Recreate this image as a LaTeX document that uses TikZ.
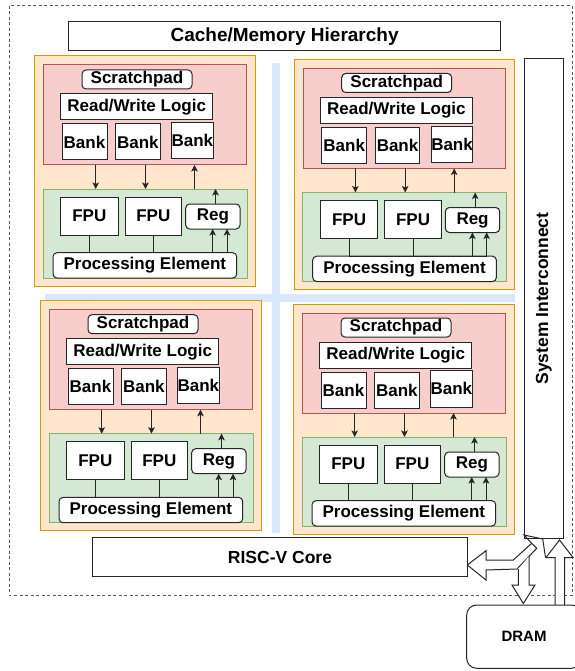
\documentclass[tikz,border=0pt]{standalone}
\usepackage{fontspec}
\setmainfont{Liberation Sans}
\usetikzlibrary{arrows.meta}
\definecolor{orF}{HTML}{FFE6CC}\definecolor{orD}{HTML}{D79B00}
\definecolor{rdF}{HTML}{F8CECC}\definecolor{rdD}{HTML}{B85450}
\definecolor{gnF}{HTML}{D5E8D4}\definecolor{gnD}{HTML}{82B366}
\definecolor{blF}{HTML}{DAE8FC}
\tikzset{
 base/.style={inner sep=0pt, outer sep=0pt, font=\bfseries\fontsize{17}{19}\selectfont},
 wbox/.style={base, draw=black!85, fill=white, line width=1pt},
 rbox/.style={wbox, rounded corners=4pt},
 panel/.style={base, line width=1pt},
 arr/.style={draw=black!85, line width=1pt, -{Stealth[length=6.5pt,width=6.5pt,inset=1.5pt]}},
 ln/.style={draw=black!85, line width=1pt},
 blk/.style={draw=black!85, fill=white, line width=1pt, line join=miter},
}
\newcommand\drawtile[3]{%
\begin{scope}[shift={(#2,#3)}]
\node[panel, draw=orD, fill=orF, minimum width=220.3, minimum height=230] (#1or) at (144.85,171) {};
\node[panel, draw=rdD, fill=rdF, minimum width=202.7, minimum height=100] (#1rd) at (144.65,115) {};
\node[rbox, minimum width=110, minimum height=19] (#1sp) at (137,79.5) {Scratchpad};
\node[wbox, minimum width=152, minimum height=26] (#1rw) at (136.7,107) {Read/Write Logic};
\node[wbox, minimum width=45, minimum height=36] (#1ba) at (84.5,142) {Bank};
\node[wbox, minimum width=44.3, minimum height=36] (#1bb) at (137.85,142) {Bank};
\node[wbox, minimum width=40.7, minimum height=36.3] (#1bc) at (192.35,140.85) {Bank};
\node[panel, draw=gnD, fill=gnF, minimum width=204, minimum height=89] (#1gn) at (145,233.5) {};
\node[wbox, minimum width=57.3, minimum height=38] (#1fa) at (89.35,216) {FPU};
\node[wbox, minimum width=56.7, minimum height=38] (#1fb) at (153.35,216) {FPU};
\node[rbox, minimum width=54.3, minimum height=25] (#1rg) at (212.85,216.5) {Reg};
\node[rbox, minimum width=183.7, minimum height=25.3] (#1pe) at (144.85,265.35) {Processing Element};
\draw[arr] (95.7,0 |- #1rd.south) -- (95.7,0 |- #1gn.north);
\draw[arr] (145.5,0 |- #1rd.south) -- (145.5,0 |- #1gn.north);
\draw[arr] (194.5,0 |- #1gn.north) -- (194.5,0 |- #1rd.south);
\draw[arr] (215.5,0 |- #1rg.north) -- (215.5,0 |- #1gn.north);
\draw[ln] (#1fa.south) -- (#1fa.south |- #1pe.north) -- (227,0 |- #1pe.north);
\draw[ln] (#1fb.south) -- (#1fb.south |- #1pe.north);
\draw[arr] (212.7,0 |- #1pe.north) -- (212.7,0 |- #1rg.south);
\draw[arr] (227,0 |- #1pe.north) -- (227,0 |- #1rg.south);
\end{scope}}
\begin{document}
\begin{tikzpicture}[x=1pt,y=-1pt]
\useasboundingbox[fill=white] (0,0) rectangle (574,671);
\draw[draw=black!65, line width=1pt, dash pattern=on 3pt off 2.5pt] (9,6) rectangle (572,595);
\node[wbox, minimum width=432, minimum height=29, font=\bfseries\fontsize{19}{21}\selectfont] (cache) at (284.6,36.5) {Cache/Memory Hierarchy};
% blue cross
\fill[blF] (272.3,62.7) rectangle (280,533);
\fill[blF] (45,294) rectangle (515,301.7);
\drawtile{tl}{0}{0}
\drawtile{tr}{259.7}{3.5}
\drawtile{bl}{6}{244.7}
\drawtile{br}{259}{248}
\node[wbox, rotate=90, minimum width=479, minimum height=39.3, font=\bfseries\fontsize{17.5}{19}\selectfont] (sys) at (543.7,298.5) {System Interconnect};
\node[wbox, minimum width=374.6, minimum height=39, font=\bfseries\fontsize{17.5}{19}\selectfont] (risc) at (280,557.2) {RISC-V Core};
% block arrows
\filldraw[blk] (531.7,543.3) -- (513.3,560) -- (486,560) -- (486,550.7) -- (risc.east |- 0,565) -- (486,580) -- (486,570) -- (517,569) -- (536.7,548.3) -- cycle;
\path[blk] (518.3,569) -- (518.3,585) -- (512,585) -- (523.3,603.5) -- (535,585) -- (529,585) -- (529,556.4);
\path[blk] (555,606) -- (555,557.5) -- (546,557.5) -- (559.5,540) -- (573,557.5) -- (564.5,557.5) -- (564.5,606);
\draw[ln] (531.7,543.3) -- (524,535) -- (542.7,539) -- (545.5,557.5);
\node[wbox, rounded corners=10pt, minimum width=114.6, minimum height=63.3, font=\bfseries\fontsize{15}{17}\selectfont] (dram) at (524,636.65) {DRAM};
\end{tikzpicture}
\end{document}
